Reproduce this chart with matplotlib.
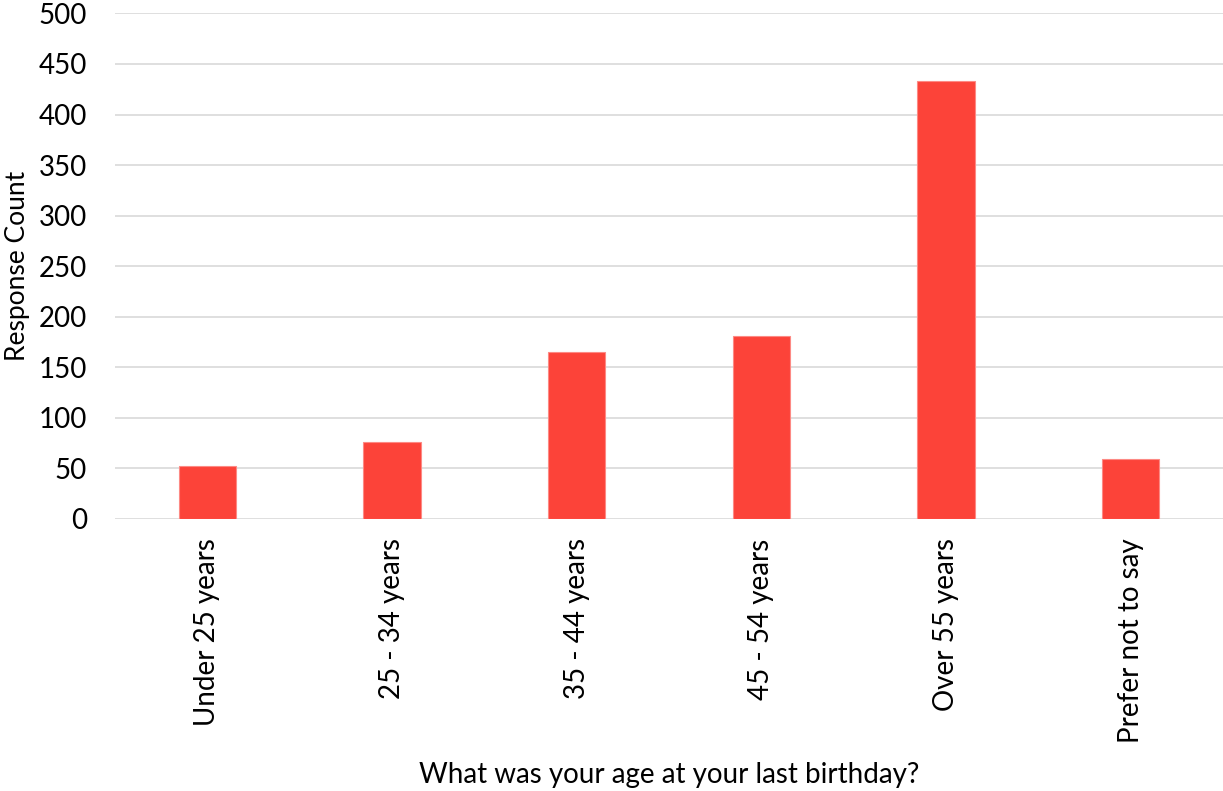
import matplotlib.pyplot as plt

plt.rcParams['font.family'] = ['Lato', 'DejaVu Sans']

groups = ['Under 25 years', '25 - 34 years', '35 - 44 years',
          '45 - 54 years', 'Over 55 years', 'Prefer not to say']
counts = [52, 76, 165, 181, 433, 59]

fig = plt.figure(figsize=(12.23, 7.91), dpi=100)
ax = fig.add_axes([0.094, 0.344, 0.906, 0.639])

x = range(len(groups))
ax.bar(x, counts, width=0.31, color='#FC4339', edgecolor='#FD8A84', linewidth=0.8, zorder=3)

ax.set_ylim(0, 500)
ax.set_xlim(-0.5, len(groups) - 0.5)
ax.set_yticks(range(0, 501, 50))
ax.grid(axis='y', color='#D9D9D9', linewidth=1.2, zorder=0)
for s in ax.spines.values():
    s.set_visible(False)
ax.tick_params(length=0, labelsize=20)
ax.tick_params(axis='y', pad=20)
ax.tick_params(axis='x', pad=14)
ax.set_xticks(list(x))
ax.set_xticklabels(groups, rotation=90)

ax.set_ylabel('Response Count', fontsize=19)
ax.yaxis.set_label_coords(-0.077, 0.5)
ax.set_xlabel('What was your age at your last birthday?', fontsize=20, labelpad=14)

fig.savefig('out.png', dpi=100)
